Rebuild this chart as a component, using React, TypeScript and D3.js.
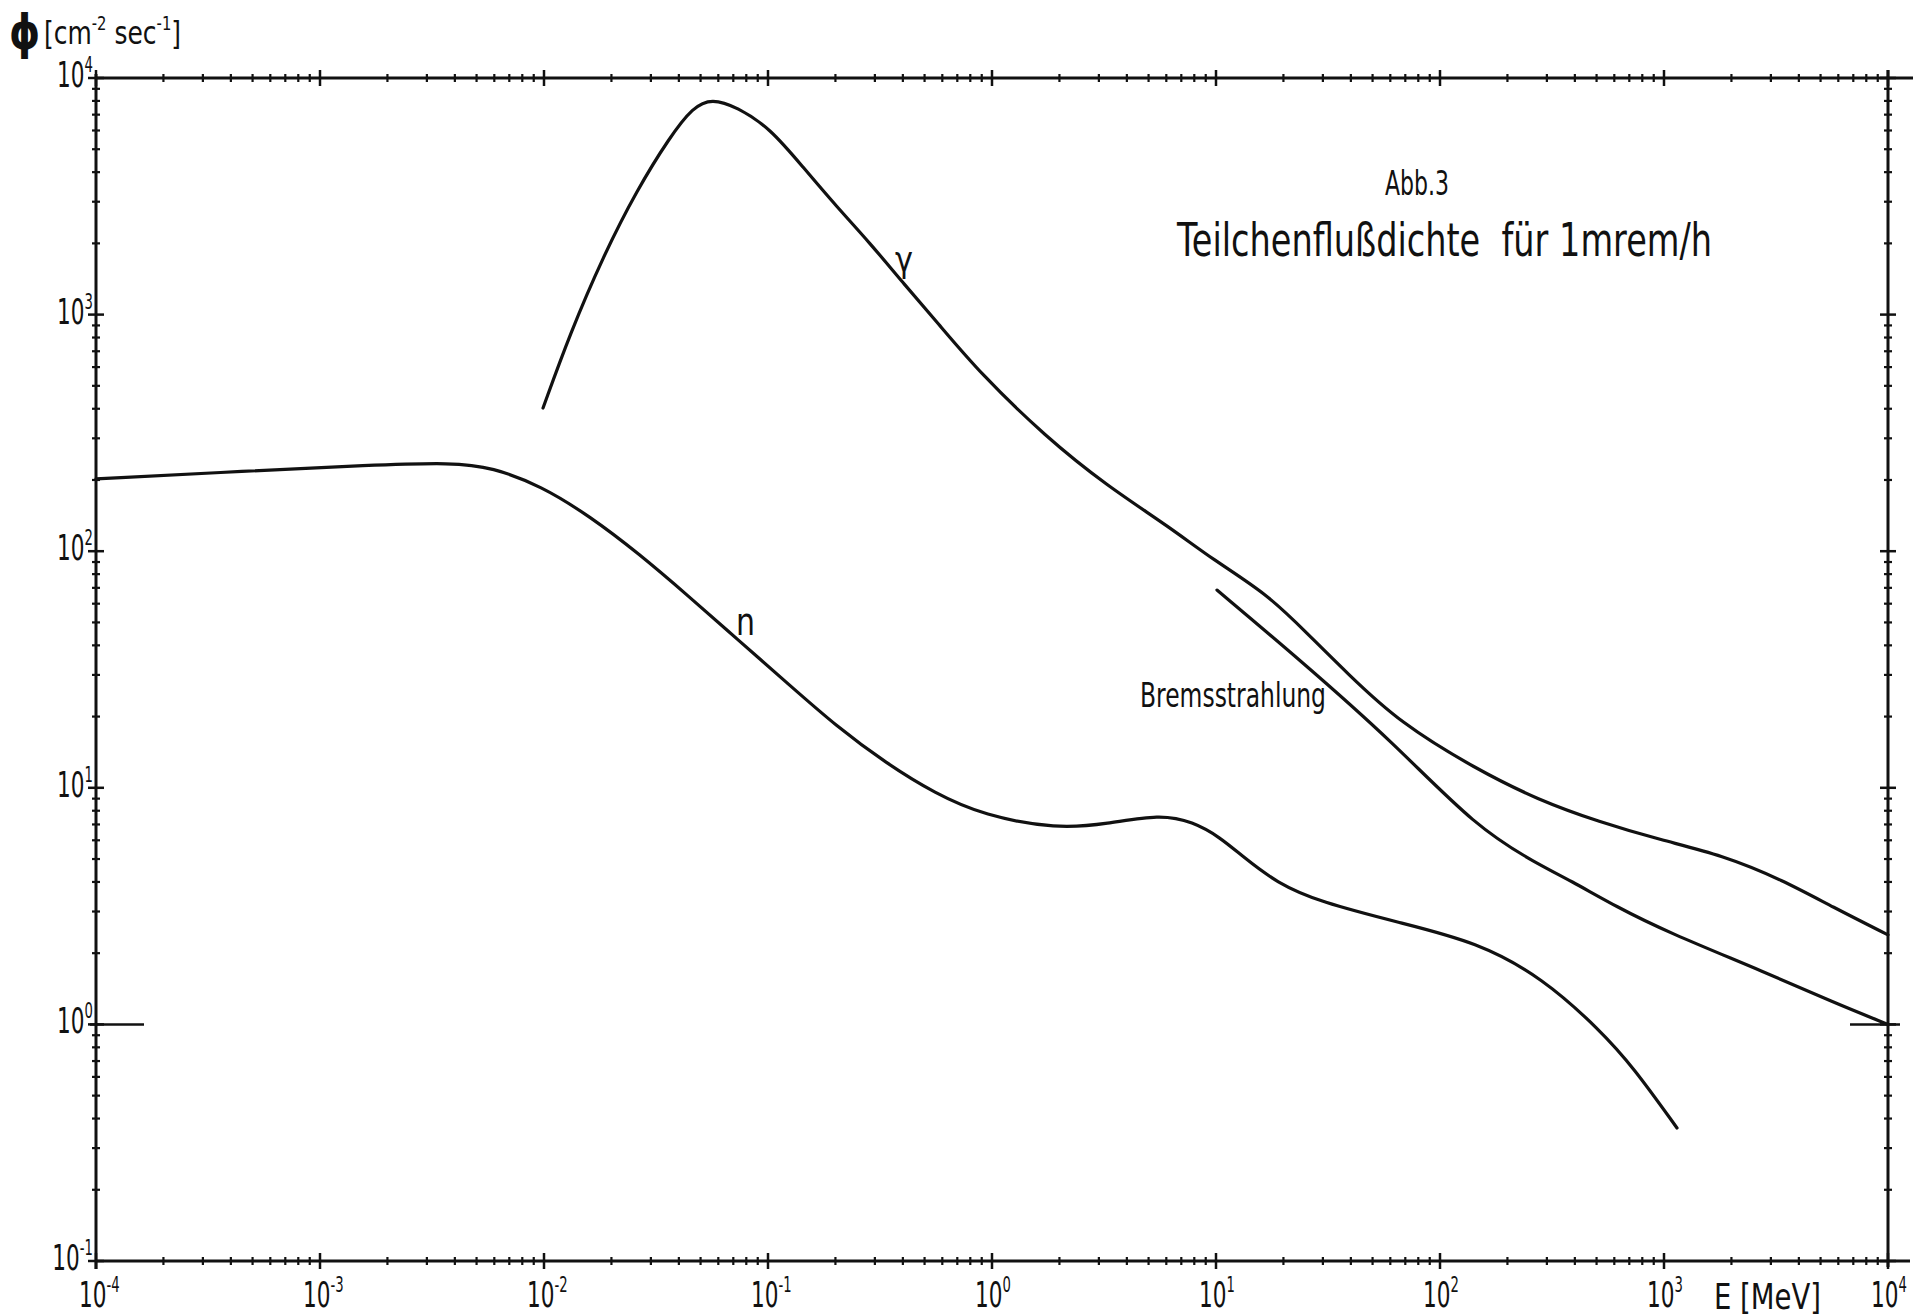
import * as d3 from 'd3';
import React, { useEffect, useRef } from 'react';

// Abb.3 - Teilchenflussdichte fuer 1 mrem/h
const gammaE = [0.0099, 0.0131, 0.0183, 0.026, 0.0365, 0.0462, 0.0562, 0.0728, 0.102, 0.143, 0.203, 0.285, 0.401, 0.568, 0.883, 1.74, 3.26, 6.17, 9.7, 16.9, 25.5, 38.5, 66.2, 145, 274, 513, 971, 1816, 3400, 5675, 10000];
const gammaPhi = [403, 836, 1750, 3365, 5640, 7530, 8200, 7530, 6150, 4210, 2850, 2010, 1360, 930, 566, 304, 189, 127, 92, 66, 45, 30.5, 18.8, 12.0, 8.89, 7.18, 6.01, 5.2, 4.07, 3.13, 2.39];

const bremsE = [10.1, 23.7, 61.7, 145, 274, 380, 617, 1030, 2880, 5675, 10000];
const bremsPhi = [68.5, 34.7, 15.6, 6.8, 4.75, 4.07, 3.13, 2.46, 1.65, 1.24, 1.0];

const neutronE = [0.0001, 0.000468, 0.00166, 0.00393, 0.00586, 0.0097, 0.0161, 0.0265, 0.0444, 0.0735, 0.122, 0.202, 0.337, 0.557, 0.92, 1.95, 3.26, 5.62, 7.89, 10.4, 13.2, 18.7, 29.1, 66.2, 146, 288, 518, 728, 1143];
const neutronPhi = [202, 218, 231, 237, 226, 189, 140, 97.7, 64.3, 42.2, 27.7, 18.2, 12.7, 9.46, 7.64, 6.7, 7.03, 7.74, 7.18, 6.19, 5.11, 3.96, 3.29, 2.69, 2.23, 1.57, 0.946, 0.661, 0.365];

const xExponents = ['-4', '-3', '-2', '-1', '0', '1', '2', '3', '4'];
const yExponents = ['-1', '0', '1', '2', '3', '4'];

const W = 1929, H = 1316;
const left = 96, right = 1888, top = 78, bottom = 1261;
const FONT = 'DejaVu Sans, Liberation Sans, sans-serif';

export default function App() {
    const ref = useRef<SVGSVGElement>(null);

    useEffect(() => {
        const svg = d3.select(ref.current);
        svg.selectAll('*').remove();

        const x = d3.scaleLog().domain([1e-4, 1e4]).range([left, right]);
        const y = d3.scaleLog().domain([0.1, 1e4]).range([bottom, top]);

        svg.append('rect').attr('width', W).attr('height', H).attr('fill', '#fff');

        const ax = svg.append('g').attr('stroke', '#111').attr('fill', 'none');
        // frame, horizontal lines run a bit past the right edge
        ax.append('line').attr('x1', left).attr('x2', right + 25).attr('y1', top).attr('y2', top).attr('stroke-width', 3);
        ax.append('line').attr('x1', left).attr('x2', right + 22).attr('y1', bottom).attr('y2', bottom).attr('stroke-width', 3);
        ax.append('line').attr('x1', left).attr('x2', left).attr('y1', top - 4).attr('y2', bottom + 8).attr('stroke-width', 3);
        ax.append('line').attr('x1', right).attr('x2', right).attr('y1', top - 8).attr('y2', bottom + 6).attr('stroke-width', 3);

        const isMajor = (v: number) => Math.abs(Math.log10(v) - Math.round(Math.log10(v))) < 1e-6;

        // crossing tick marks on all four sides
        x.ticks().forEach(v => {
            const len = isMajor(v) ? 8 : 4;
            [top, bottom].forEach(yy => {
                ax.append('line').attr('x1', x(v)).attr('x2', x(v))
                    .attr('y1', yy - len).attr('y2', yy + len).attr('stroke-width', isMajor(v) ? 2.5 : 2.2);
            });
        });
        y.ticks().forEach(v => {
            const len = isMajor(v) ? 8 : 4;
            [left, right].forEach(xx => {
                ax.append('line').attr('y1', y(v)).attr('y2', y(v))
                    .attr('x1', xx - len).attr('x2', xx + len).attr('stroke-width', isMajor(v) ? 2.5 : 2.2);
            });
        });
        // longer marks at 10^0
        ax.append('line').attr('x1', left - 6).attr('x2', left + 48).attr('y1', y(1)).attr('y2', y(1)).attr('stroke-width', 2.5);
        ax.append('line').attr('x1', right - 38).attr('x2', right + 12).attr('y1', y(1)).attr('y2', y(1)).attr('stroke-width', 2.5);

        // tick labels: "10" with raised exponent, condensed
        const txt = svg.append('g').attr('fill', '#111').attr('font-family', FONT);
        xExponents.forEach(e => {
            const v = Math.pow(10, +e);
            const g = txt.append('g').attr('transform', `translate(${x(v) - 17},${bottom + 46}) scale(0.6,1)`);
            const t = g.append('text').attr('font-size', 36);
            t.append('tspan').text('10');
            t.append('tspan').attr('font-size', 22).attr('dy', -15).text(e);
        });
        yExponents.forEach(e => {
            const v = Math.pow(10, +e);
            const g = txt.append('g').attr('transform', `translate(${left - 3},${y(v) + 9}) scale(0.6,1)`);
            const t = g.append('text').attr('font-size', 36).attr('text-anchor', 'end');
            t.append('tspan').text('10');
            t.append('tspan').attr('font-size', 22).attr('dy', -15).text(e);
        });

        // curves
        const line = d3.line<[number, number]>()
            .x(d => x(d[0]))
            .y(d => y(d[1]))
            .curve(d3.curveBasis);
        const curves = [
            d3.zip(gammaE, gammaPhi),
            d3.zip(bremsE, bremsPhi),
            d3.zip(neutronE, neutronPhi),
        ];
        svg.append('g').selectAll('path').data(curves).enter().append('path')
            .attr('d', d => line(d as [number, number][]))
            .attr('fill', 'none')
            .attr('stroke', '#111')
            .attr('stroke-width', 3.2)
            .attr('stroke-linecap', 'round')
            .attr('stroke-linejoin', 'round');

        // labels
        const lab = (s: string, xx: number, yy: number, size: number, len: number) =>
            txt.append('text').attr('x', xx).attr('y', yy).attr('font-size', size)
                .attr('textLength', len).attr('lengthAdjust', 'spacingAndGlyphs').text(s);

        lab('Abb.3', 1385, 195, 34, 64);
        lab('Teilchenflußdichte\u00a0\u00a0für\u00a01mrem/h', 1177, 256, 46, 535);
        lab('γ', 895, 272, 36, 18);
        lab('n', 736, 635, 38, 19);
        lab('Bremsstrahlung', 1140, 707, 34, 186);
        lab('E\u00a0[MeV]', 1714, 1309, 36, 107);

        // y axis title
        txt.append('g').attr('transform', 'translate(9,49) scale(0.82,1)')
            .append('text').attr('font-size', 48).attr('font-weight', 'bold').text('ϕ');
        const ug = txt.append('g').attr('transform', 'translate(44,44) scale(0.78,1)');
        const unit = ug.append('text').attr('font-size', 32);
        unit.append('tspan').text('[cm');
        unit.append('tspan').attr('font-size', 19).attr('dy', -14).text('-2');
        unit.append('tspan').attr('dy', 14).text('\u00a0sec');
        unit.append('tspan').attr('font-size', 19).attr('dy', -14).text('-1');
        unit.append('tspan').attr('dy', 14).text(']');
    }, []);

    return (
        <div className="chart">
            <svg ref={ref} width={W} height={H}
                style={{ position: 'absolute', left: 0, top: 0, display: 'block' }} />
        </div>
    );
}
